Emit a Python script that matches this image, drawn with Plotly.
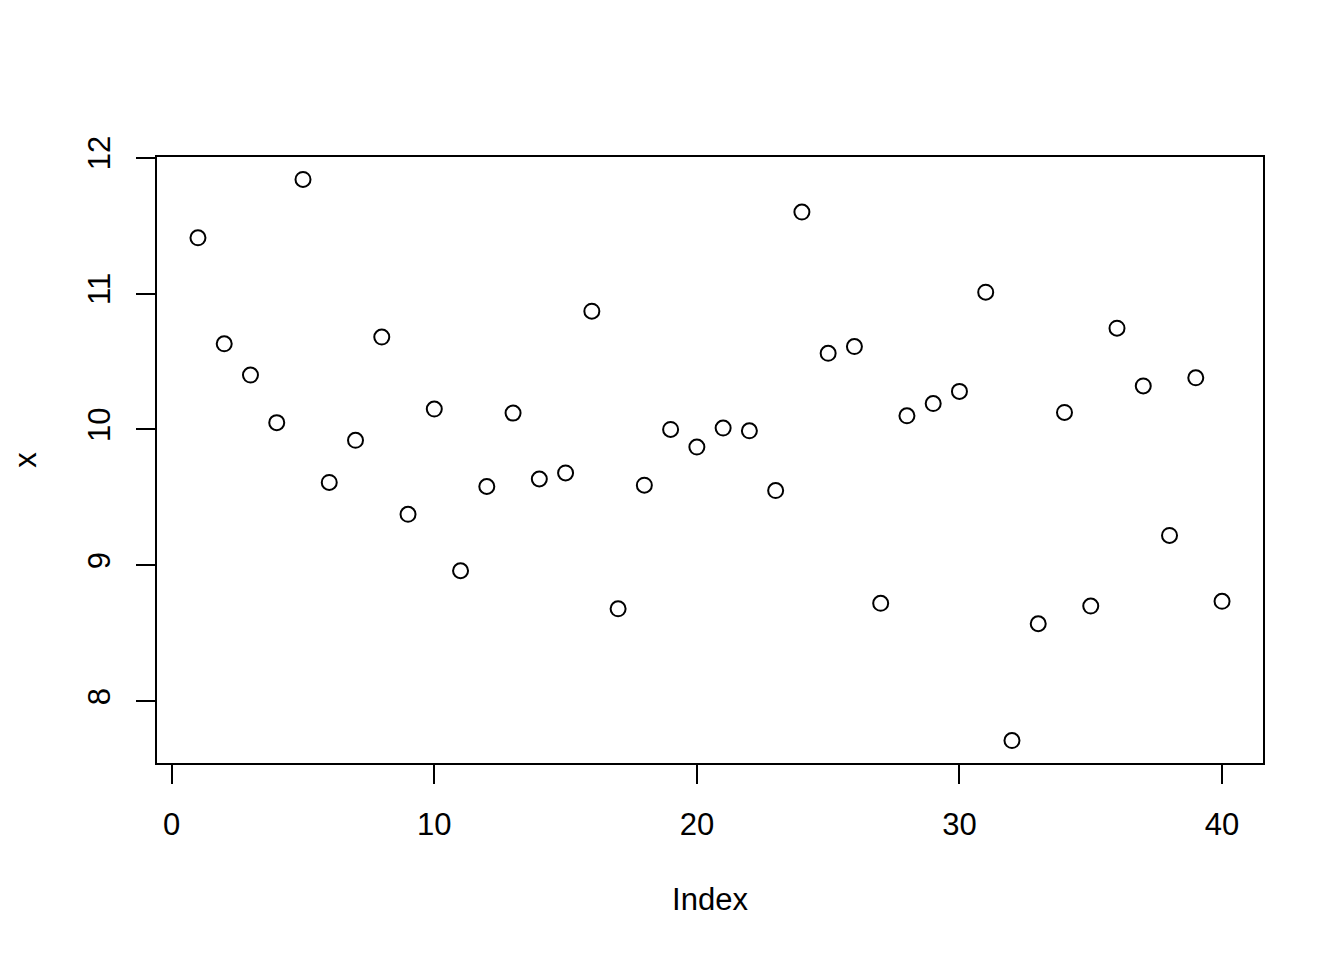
import plotly.graph_objects as go

index = list(range(1, 41))
x_values = [11.41, 10.63, 10.40, 10.05, 11.84, 9.61, 9.92, 10.68, 9.375, 10.15,
            8.96, 9.58, 10.12, 9.635, 9.68, 10.87, 8.68, 9.59, 10.00, 9.87,
            10.01, 9.99, 9.55, 11.60, 10.56, 10.61, 8.72, 10.10, 10.19, 10.28,
            11.01, 7.71, 8.57, 10.125, 8.70, 10.745, 10.32, 9.22, 10.38, 8.735]
x_ticks = [0, 10, 20, 30, 40]
y_ticks = [8, 9, 10, 11, 12]

fig = go.Figure()
fig.add_trace(go.Scatter(
    x=index, y=x_values, mode="markers",
    marker=dict(symbol="circle-open", size=15, color="black", line=dict(width=2, color="black")),
    showlegend=False,
))

font = dict(family="Liberation Sans, Arial, Helvetica, sans-serif", size=31, color="black")
fig.update_layout(
    width=1328, height=944,
    margin=dict(l=149, r=73, t=149, b=189),
    plot_bgcolor="white", paper_bgcolor="white",
    font=font,
    xaxis=dict(
        range=[-0.56, 41.56], tickvals=x_ticks, showgrid=False, zeroline=False,
        showline=True, mirror=True, linecolor="black", linewidth=2,
        ticks="outside", ticklen=19, tickwidth=2, tickcolor="black",
        ticklabelstandoff=14,
        title=dict(text="Index", standoff=47, font=font),
    ),
    yaxis=dict(
        range=[7.545, 12.005], tickvals=y_ticks, showgrid=False, zeroline=False,
        showline=True, mirror=True, linecolor="black", linewidth=2,
        ticks="outside", ticklen=19, tickwidth=2, tickcolor="black",
        tickangle=-90, ticklabelstandoff=14,
        title=dict(text="x", standoff=37, font=font),
    ),
)

fig.write_html("out.html")
